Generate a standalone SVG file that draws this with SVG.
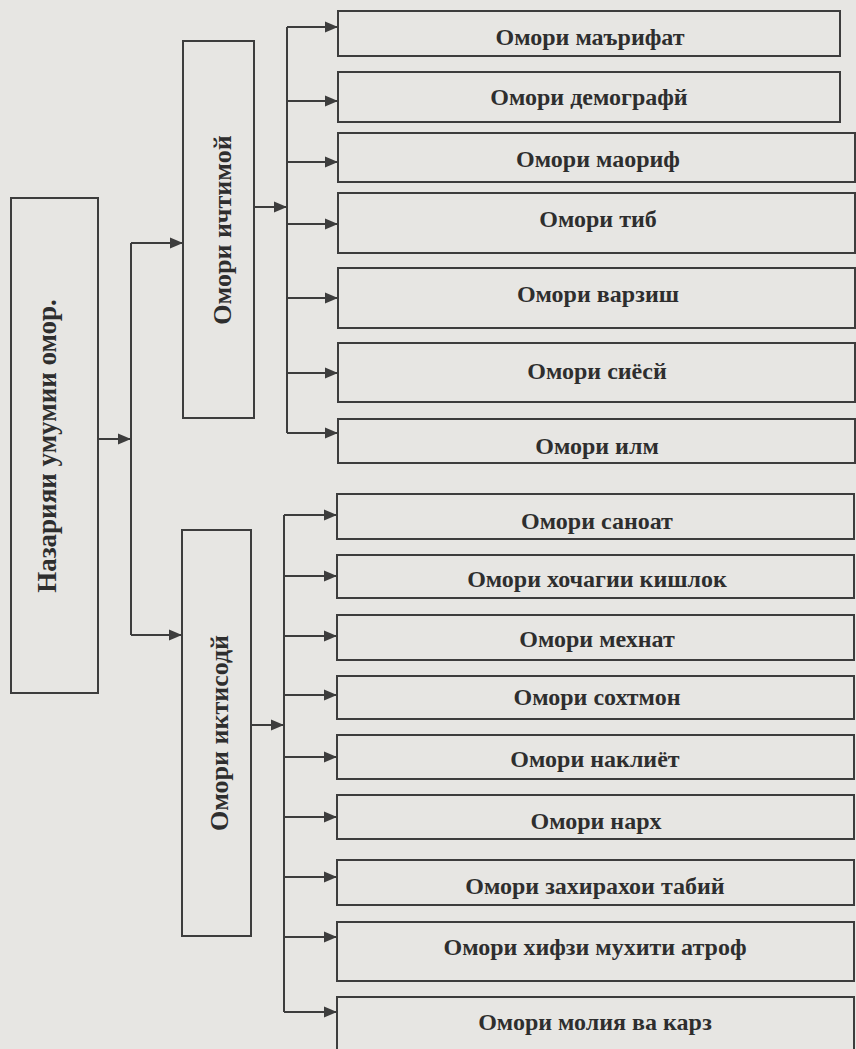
<svg xmlns="http://www.w3.org/2000/svg" width="856" height="1049" viewBox="0 0 856 1049">
<style>
.box{fill:#e7e6e3;stroke:#3d3d3d;stroke-width:2}
.lbl{font-family:"Liberation Serif","Times New Roman",serif;font-weight:bold;font-size:24px;fill:#2e2e2e;text-anchor:middle}
.vl{font-family:"Liberation Serif","Times New Roman",serif;font-weight:bold;font-size:26px;fill:#2e2e2e;text-anchor:middle}
.ln{stroke:#3d3d3d;stroke-width:2;fill:none}
.ar{stroke:#3d3d3d;stroke-width:2;fill:none;marker-end:url(#ah)}
</style>
<defs>
<marker id="ah" markerUnits="userSpaceOnUse" markerWidth="14" markerHeight="12" refX="13" refY="6" orient="auto">
<path d="M0,0.5 L13,6 L0,11.5 z" fill="#3d3d3d"/>
</marker>
</defs>
<rect x="0" y="0" width="856" height="1049" fill="#e7e6e3"/>
<g id="connectors">
<line class="ar" x1="98" y1="439" x2="131" y2="439"/>
<line class="ln" x1="131" y1="243" x2="131" y2="635"/>
<line class="ar" x1="131" y1="243" x2="183" y2="243"/>
<line class="ar" x1="131" y1="635" x2="182" y2="635"/>
<line class="ar" x1="254" y1="207" x2="287" y2="207"/>
<line class="ln" x1="287" y1="27" x2="287" y2="433"/>
<line class="ar" x1="287" y1="27" x2="338" y2="27"/>
<line class="ar" x1="287" y1="101" x2="338" y2="101"/>
<line class="ar" x1="287" y1="162" x2="338" y2="162"/>
<line class="ar" x1="287" y1="224" x2="338" y2="224"/>
<line class="ar" x1="287" y1="298" x2="338" y2="298"/>
<line class="ar" x1="287" y1="373" x2="338" y2="373"/>
<line class="ar" x1="287" y1="433" x2="338" y2="433"/>
<line class="ar" x1="251" y1="725" x2="284" y2="725"/>
<line class="ln" x1="284" y1="515" x2="284" y2="1012"/>
<line class="ar" x1="284" y1="515" x2="337" y2="515"/>
<line class="ar" x1="284" y1="576" x2="337" y2="576"/>
<line class="ar" x1="284" y1="636" x2="337" y2="636"/>
<line class="ar" x1="284" y1="695" x2="337" y2="695"/>
<line class="ar" x1="284" y1="757" x2="337" y2="757"/>
<line class="ar" x1="284" y1="817" x2="337" y2="817"/>
<line class="ar" x1="284" y1="877" x2="337" y2="877"/>
<line class="ar" x1="284" y1="937" x2="337" y2="937"/>
<line class="ar" x1="284" y1="1012" x2="337" y2="1012"/>
</g>
<g id="root">
<rect class="box" x="11" y="198" width="87" height="495"/>
<text class="vl" style="font-size:27px" transform="translate(47,446) rotate(-90)" y="9">Назарияи умумии омор.</text>
</g>
<g id="ichtimoi">
<rect class="box" x="183" y="41" width="71" height="377"/>
<text class="vl" transform="translate(222,230) rotate(-90)" y="9">Омори ичтимой</text>
</g>
<g id="iktisodi">
<rect class="box" x="182" y="530" width="69" height="406"/>
<text class="vl" transform="translate(219,733) rotate(-90)" y="9">Омори иктисодй</text>
</g>
<g id="n1"><rect class="box" x="338" y="11" width="502" height="45"/><text class="lbl" x="590" y="45">Омори маърифат</text></g>
<g id="n2"><rect class="box" x="338" y="72" width="502" height="50"/><text class="lbl" x="589" y="105">Омори демографй</text></g>
<g id="n3"><rect class="box" x="338" y="133" width="517" height="49"/><text class="lbl" x="598" y="167">Омори маориф</text></g>
<g id="n4"><rect class="box" x="338" y="193" width="517" height="60"/><text class="lbl" x="598" y="227">Омори тиб</text></g>
<g id="n5"><rect class="box" x="338" y="268" width="517" height="60"/><text class="lbl" x="598" y="302">Омори варзиш</text></g>
<g id="n6"><rect class="box" x="338" y="343" width="517" height="59"/><text class="lbl" x="597" y="379">Омори сиёсй</text></g>
<g id="n7"><rect class="box" x="338" y="419" width="517" height="44"/><text class="lbl" x="597" y="454">Омори илм</text></g>
<g id="n8"><rect class="box" x="337" y="494" width="517" height="45"/><text class="lbl" x="597" y="529">Омори саноат</text></g>
<g id="n9"><rect class="box" x="337" y="555" width="517" height="43"/><text class="lbl" x="597" y="587">Омори хочагии кишлок</text></g>
<g id="n10"><rect class="box" x="337" y="615" width="517" height="45"/><text class="lbl" x="597" y="647">Омори мехнат</text></g>
<g id="n11"><rect class="box" x="337" y="676" width="517" height="43"/><text class="lbl" x="597" y="705">Омори сохтмон</text></g>
<g id="n12"><rect class="box" x="337" y="735" width="517" height="44"/><text class="lbl" x="595" y="767">Омори наклиёт</text></g>
<g id="n13"><rect class="box" x="337" y="795" width="517" height="44"/><text class="lbl" x="596" y="829">Омори нарх</text></g>
<g id="n14"><rect class="box" x="337" y="860" width="517" height="45"/><text class="lbl" x="595" y="894">Омори захирахои табий</text></g>
<g id="n15"><rect class="box" x="337" y="922" width="517" height="59"/><text class="lbl" x="595" y="955">Омори хифзи мухити атроф</text></g>
<g id="n16"><rect class="box" x="337" y="997" width="517" height="70"/><text class="lbl" x="595" y="1030">Омори молия ва карз</text></g>
</svg>
